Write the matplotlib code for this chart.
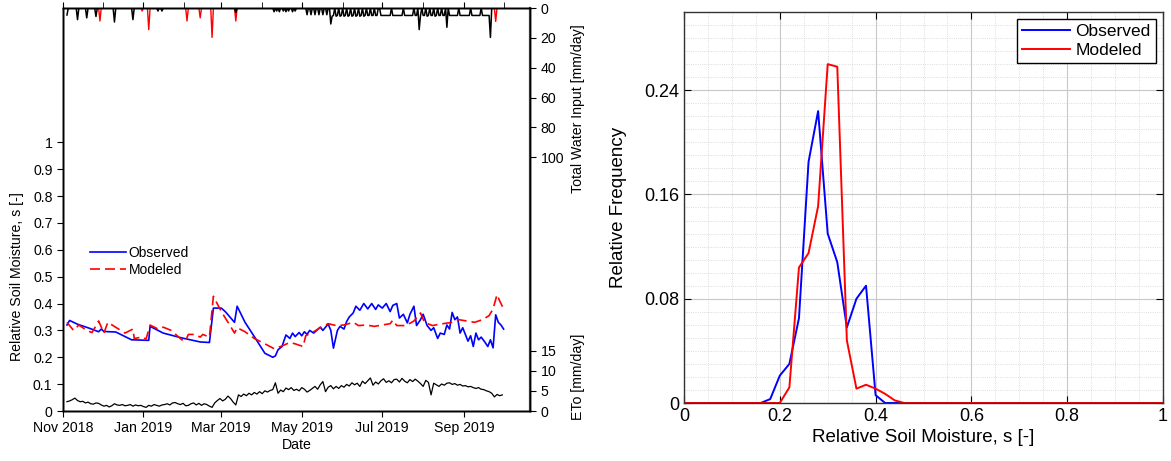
import numpy as np
import pandas as pd
import matplotlib
matplotlib.use('Agg')
import matplotlib.pyplot as plt
import matplotlib.dates as mdates
from matplotlib.ticker import FixedLocator, FixedFormatter, MultipleLocator

plt.rcParams['font.family'] = ['Liberation Sans', 'DejaVu Sans']

start = pd.Timestamp('2018-11-01')
end = pd.Timestamp('2019-10-21')

# observed relative soil moisture (days since 1 Nov 2018, s)
obs_day = [3, 5, 11, 20, 27, 29, 31, 40, 52, 65, 66, 76, 90, 104, 111, 114, 120, 123,
           130, 132, 138, 145, 153, 159, 161, 163, 166, 169, 172, 174, 176, 179, 181,
           183, 185, 187, 190, 195, 197, 201, 203, 205, 208, 210, 213, 215, 217, 220,
           222, 225, 228, 231, 234, 237, 239, 242, 245, 248, 250, 253, 255, 258, 261,
           263, 266, 268, 271, 273, 276, 279, 281, 284, 286, 289, 291, 293, 295, 297,
           299, 301, 303, 307, 309, 311, 313, 315, 317, 320, 322, 324, 326, 328, 330,
           332, 334]
obs_s = [0.320, 0.337, 0.323, 0.308, 0.295, 0.305, 0.296, 0.294, 0.265, 0.263, 0.315,
         0.290, 0.272, 0.257, 0.255, 0.383, 0.383, 0.370, 0.330, 0.390, 0.330, 0.277,
         0.215, 0.200, 0.205, 0.228, 0.240, 0.283, 0.270, 0.290, 0.277, 0.292, 0.280,
         0.295, 0.285, 0.300, 0.290, 0.312, 0.300, 0.324, 0.300, 0.234, 0.300, 0.315,
         0.305, 0.333, 0.350, 0.365, 0.390, 0.375, 0.400, 0.380, 0.400, 0.378, 0.395,
         0.383, 0.400, 0.370, 0.393, 0.400, 0.346, 0.360, 0.328, 0.360, 0.390, 0.318,
         0.340, 0.360, 0.318, 0.300, 0.310, 0.270, 0.290, 0.285, 0.320, 0.305, 0.367,
         0.340, 0.350, 0.290, 0.310, 0.260, 0.280, 0.240, 0.290, 0.265, 0.275, 0.255,
         0.240, 0.265, 0.235, 0.358, 0.330, 0.320, 0.305]

# modeled relative soil moisture
mod_day = [3, 8, 12, 18, 22, 27, 31, 34, 47, 53, 54, 60, 63, 66, 72, 76, 82, 90, 93, 95,
           100, 104, 106, 111, 114, 120, 126, 130, 132, 138, 145, 155, 160, 165, 172,
           176, 182, 184, 190, 195, 201, 207, 213, 220, 224, 230, 236, 242, 248, 250,
           253, 260, 266, 271, 274, 280, 288, 295, 300, 306, 312, 318, 323, 326, 329,
           331, 334]
mod_s = [0.330, 0.300, 0.320, 0.300, 0.292, 0.335, 0.290, 0.330, 0.290, 0.305, 0.270,
         0.275, 0.268, 0.320, 0.305, 0.312, 0.300, 0.265, 0.262, 0.285, 0.285, 0.275,
         0.285, 0.275, 0.427, 0.370, 0.323, 0.290, 0.310, 0.295, 0.270, 0.245, 0.232,
         0.240, 0.255, 0.250, 0.240, 0.280, 0.295, 0.310, 0.325, 0.318, 0.320, 0.330,
         0.318, 0.320, 0.315, 0.320, 0.325, 0.338, 0.318, 0.318, 0.335, 0.365, 0.330,
         0.318, 0.325, 0.330, 0.340, 0.335, 0.330, 0.340, 0.355, 0.380, 0.433, 0.410,
         0.380]

# reference evapotranspiration, every second day from day 3 [mm/day]
eto_day = list(range(3, 334, 2))
eto_mm = [2.3, 2.5, 2.8, 3.2, 2.6, 2.3, 2.4, 2.0, 2.2, 1.8, 1.7, 2.0, 1.9, 1.5, 1.2,
          1.4, 1.0, 1.3, 1.8, 1.5, 1.4, 1.6, 1.3, 1.4, 1.6, 1.2, 1.5, 1.3, 1.4, 1.1,
          0.9, 1.4, 1.2, 1.6, 1.4, 1.2, 1.5, 1.6, 1.8, 1.5, 2.0, 2.1, 1.8, 1.6, 1.9,
          1.3, 1.4, 1.8, 2.0, 1.5, 1.9, 1.4, 1.8, 1.6, 1.2, 0.9, 2.0, 2.6, 3.1, 2.5,
          2.9, 3.7, 3.1, 2.2, 1.5, 4.0, 3.6, 4.2, 3.8, 4.4, 4.0, 4.6, 4.2, 4.8, 4.3,
          5.0, 4.7, 5.1, 5.3, 7.0, 4.4, 5.2, 4.8, 5.7, 5.3, 5.8, 5.1, 5.4, 5.0, 5.8,
          5.4, 4.7, 5.1, 5.6, 6.1, 5.4, 6.5, 7.3, 4.8, 5.9, 6.3, 5.5, 6.1, 5.6, 6.3,
          5.9, 6.6, 6.2, 7.0, 6.5, 6.9, 6.1, 7.4, 6.8, 7.5, 8.2, 6.4, 7.2, 6.7, 7.5,
          8.0, 7.1, 7.5, 7.0, 7.8, 7.9, 7.2, 8.1, 7.4, 7.0, 7.8, 7.3, 7.9, 7.4, 6.8,
          6.1, 7.6, 7.1, 4.0, 6.9, 6.5, 6.1, 6.7, 6.4, 6.9, 7.0, 6.6, 6.8, 6.4, 6.6,
          6.2, 6.3, 6.0, 6.1, 5.8, 5.6, 5.8, 5.4, 5.3, 5.0, 4.8, 4.4, 3.5, 4.1, 3.8,
          4.0]

# rainfall events [mm/day]
rain_day = [28, 60, 65, 94, 104, 113, 131, 328]
rain_mm = [8.7, 2.0, 14.5, 8.7, 6.6, 19.7, 8.7, 9.0]

# irrigation days [mm/day]
irr_day = [3, 11, 18, 25, 39, 53, 72, 75, 131,
           160, 162, 164, 167, 169, 171, 174, 176,
           185, 188, 191, 194, 197, 200, 203,
           204, 205, 207, 208, 210, 211, 213, 214, 216, 217, 219, 220, 222, 223, 225,
           226, 228, 229, 231, 232, 234, 235, 237, 238,
           241, 242, 243, 244, 245, 246, 247, 248, 250, 251, 252, 253, 254, 255, 256,
           257, 259, 260, 261, 262, 263, 264, 265,
           267, 268, 270, 271, 273, 274, 276, 277, 279, 280, 282, 283, 285, 286, 288,
           289, 291,
           293, 294, 295, 296, 297, 298, 299, 301, 302, 303, 304, 305, 306, 307, 308,
           310, 311, 312, 313, 314, 315, 316, 318, 319, 320, 321, 322, 323, 324]
irr_mm = [4.7, 7.8, 6.6, 5.7, 9.4, 7.8, 2.0, 2.0, 3.0,
          2.5, 2.0, 2.5, 2.0, 2.5, 2.0, 2.5, 2.0,
          4.5, 4.5, 4.5, 4.5, 4.5, 4.5, 10.7,
          5.5, 5.0, 5.5, 5.0, 5.5, 5.0, 5.5, 5.0, 5.5, 5.0, 5.5, 5.0, 5.5, 5.0, 5.5,
          5.0, 5.5, 5.0, 5.0, 5.0, 5.0, 5.0, 5.0, 5.0,
          5.0, 5.0, 5.0, 5.0, 5.0, 5.0, 5.0, 5.0, 5.0, 5.0, 5.0, 5.0, 5.0, 5.0, 5.0,
          5.0, 5.0, 5.0, 5.0, 5.0, 5.0, 5.0, 5.0,
          5.0, 5.0, 14.5, 5.0, 5.0, 5.0, 5.5, 5.0, 5.0, 5.0, 5.5, 5.0, 5.0, 5.0, 5.0,
          5.0, 12.9,
          5.0, 5.0, 5.0, 5.0, 5.0, 5.0, 5.0, 5.0, 5.0, 5.0, 5.0, 5.0, 5.0, 5.0, 5.0,
          5.0, 5.0, 5.0, 5.0, 5.0, 5.0, 5.0, 5.0, 5.0, 5.0, 5.0, 5.0, 5.0, 19.7]

# relative frequency of s (bin centres 0, 0.02, ..., 1)
s_bins = np.linspace(0, 1, 51)
obs_freq = [0] * 9 + [0.003, 0.021, 0.030, 0.065, 0.185, 0.224, 0.130, 0.108, 0.058,
                      0.080, 0.090, 0.006] + [0] * 30
mod_freq = [0] * 11 + [0.012, 0.104, 0.115, 0.151, 0.260, 0.258, 0.048, 0.011, 0.014,
                       0.011, 0.007, 0.002] + [0] * 28


def to_dates(days):
    return start + pd.to_timedelta(np.array(days), unit='D')


# daily water input series
all_day = np.arange(3, 335)
rain = np.zeros(len(all_day))
irr = np.zeros(len(all_day))
rain[np.array(rain_day) - 3] = rain_mm
irr[np.array(irr_day) - 3] = irr_mm

fig = plt.figure(figsize=(11.71, 4.61), dpi=100)

#left panel: time series
ax = fig.add_axes([63 / 1171, 50 / 461, 467 / 1171, 403 / 461])
ax.plot(to_dates(obs_day), obs_s, color='#0000ff', lw=1.2, label='Observed')
ax.plot(to_dates(mod_day), mod_s, color='#ff0000', lw=1.2, dashes=(6, 3), label='Modeled')
ax.set_xlim(start, end)
ax.set_ylim(0, 1.5)
sm_ticks = [0, 0.1, 0.2, 0.3, 0.4, 0.5, 0.6, 0.7, 0.8, 0.9, 1]
ax.yaxis.set_major_locator(FixedLocator(sm_ticks))
ax.yaxis.set_major_formatter(FixedFormatter(['0', '0.1', '0.2', '0.3', '0.4', '0.5', '0.6',
                                             '0.7', '0.8', '0.9', '1']))
ax.xaxis.set_major_locator(mdates.MonthLocator(bymonth=[1, 3, 5, 7, 9, 11]))
ax.xaxis.set_major_formatter(mdates.DateFormatter('%b %Y'))
ax.xaxis.set_minor_locator(mdates.MonthLocator())
ax.tick_params(which='major', direction='out', length=4, labelsize=10.2, top=True)
ax.tick_params(which='minor', direction='out', length=4, bottom=False, top=True)
ax.set_xlabel('Date', fontsize=10.2, labelpad=2)
ax.set_ylabel('Relative Soil Moisture, s [-]', fontsize=10.2)
ax.yaxis.set_label_coords(-0.083, 0.333)
ax.legend(loc='upper left', bbox_to_anchor=(0.03, 0.44), frameon=False, fontsize=10,
          handlelength=2.6, handletextpad=0.2, labelspacing=0.2)

#water input axis
ax_p = ax.twinx()
ax_p.plot(to_dates(all_day), rain, color='#ff0000', lw=1.0)
ax_p.plot(to_dates(all_day), irr, color='black', lw=1.1)
ax_p.set_xlim(start, end)
ax_p.set_ylim(270, 0)
ax_p.set_yticks([0, 20, 40, 60, 80, 100])
ax_p.tick_params(direction='out', length=4, labelsize=10.2)
ax_p.set_ylabel('Total Water Input [mm/day]', fontsize=10.2)
ax_p.yaxis.set_label_coords(1.088, 0.75)

#ETo axis
ax_e = ax.twinx()
ax_e.plot(to_dates(eto_day), eto_mm, color='black', lw=0.9)
ax_e.set_xlim(start, end)
ax_e.set_ylim(0, 100)
ax_e.set_yticks([0, 5, 10, 15])
ax_e.tick_params(direction='out', length=4, labelsize=10.2)
ax_e.set_ylabel('ETo [mm/day]', fontsize=10.2)
ax_e.yaxis.set_label_coords(1.088, 0.085)
for a in (ax, ax_p, ax_e):
    for sp in a.spines.values():
        sp.set_linewidth(1.0)
ax_p.spines['right'].set_linewidth(1.6)
ax_p.spines['right'].set_color('#444444')

#right panel: frequency distribution
ax2 = fig.add_axes([684 / 1171, 58 / 461, 479 / 1171, 391 / 461])
ax2.plot(s_bins, obs_freq, color='#0000ff', lw=1.4, label='Observed')
ax2.plot(s_bins, mod_freq, color='#ff0000', lw=1.4, label='Modeled')
ax2.set_xlim(0, 1)
ax2.set_ylim(0, 0.3)
ax2.xaxis.set_major_locator(FixedLocator([0, 0.2, 0.4, 0.6, 0.8, 1]))
ax2.xaxis.set_major_formatter(FixedFormatter(['0', '0.2', '0.4', '0.6', '0.8', '1']))
ax2.yaxis.set_major_locator(FixedLocator([0, 0.08, 0.16, 0.24]))
ax2.yaxis.set_major_formatter(FixedFormatter(['0', '0.08', '0.16', '0.24']))
ax2.xaxis.set_minor_locator(MultipleLocator(0.05))
ax2.yaxis.set_minor_locator(MultipleLocator(0.01))
ax2.grid(which='major', color='#c8c8c8', lw=0.8)
ax2.grid(which='minor', color='#d0d0d0', lw=0.6, linestyle=':')
ax2.set_axisbelow(True)
ax2.tick_params(which='major', direction='in', length=5, top=True, right=True, labelsize=13)
ax2.tick_params(which='minor', length=0)
for sp in ax2.spines.values():
    sp.set_color('#333333')
    sp.set_linewidth(1.0)
ax2.set_xlabel('Relative Soil Moisture, s [-]', fontsize=13.5, labelpad=3)
ax2.set_ylabel('Relative Frequency', fontsize=13.5, labelpad=12)
leg = ax2.legend(loc='upper right', fontsize=12.5, fancybox=False, framealpha=1,
                 edgecolor='black', handlelength=2.8, handletextpad=0.3,
                 borderpad=0.3, labelspacing=0.2, borderaxespad=0.4)
leg.get_frame().set_linewidth(1.0)

fig.savefig('out.png', dpi=100)
